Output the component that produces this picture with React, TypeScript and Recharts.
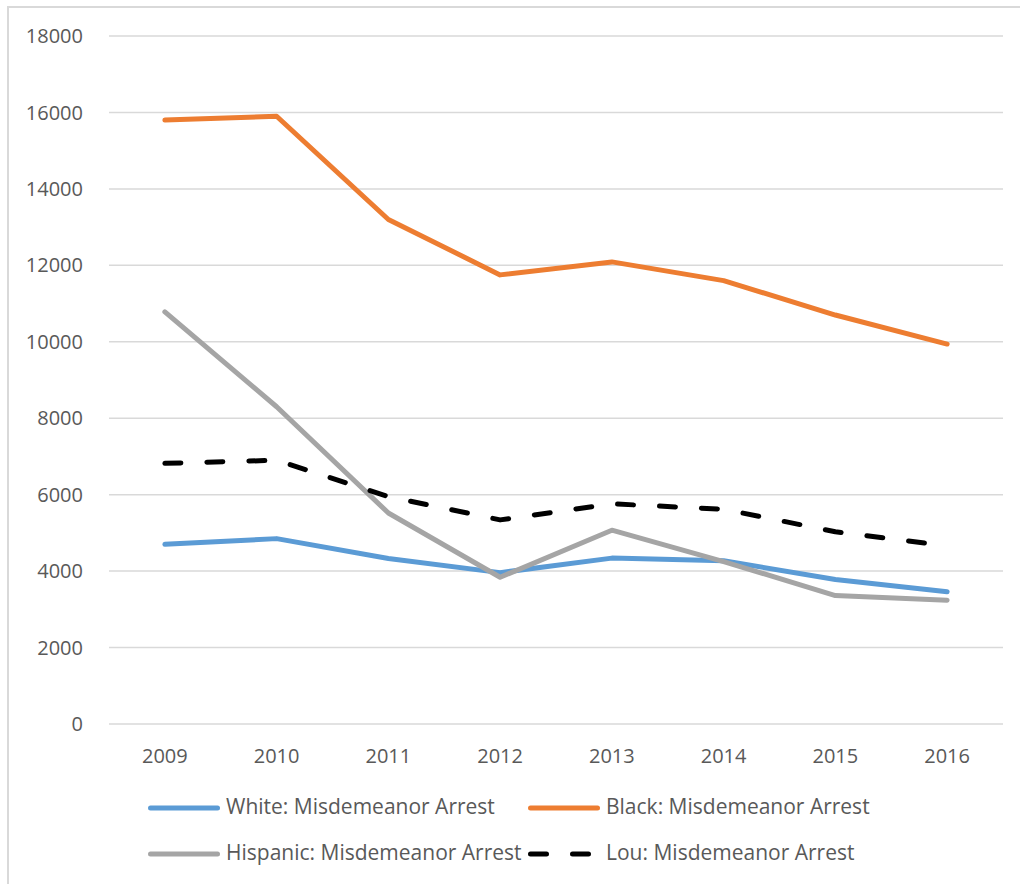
import { LineChart, Line, XAxis, YAxis, CartesianGrid, Legend } from 'recharts';

const years = ['2009', '2010', '2011', '2012', '2013', '2014', '2015', '2016'];
const white = [4700, 4850, 4330, 3960, 4340, 4270, 3780, 3460];
const black = [15800, 15900, 13200, 11750, 12090, 11600, 10700, 9940];
const hispanic = [10780, 8300, 5520, 3840, 5070, 4250, 3360, 3240];
const lou = [6820, 6900, 5950, 5340, 5760, 5620, 5030, 4660];
const yTicks = [0, 2000, 4000, 6000, 8000, 10000, 12000, 14000, 16000, 18000];
const legendOrder = [
  'White: Misdemeanor Arrest',
  'Black: Misdemeanor Arrest',
  'Hispanic: Misdemeanor Arrest',
  'Lou: Misdemeanor Arrest',
];

const data = years.map((year, i) => ({
  year,
  white: white[i],
  black: black[i],
  hispanic: hispanic[i],
  lou: lou[i],
}));

const FONT = '"Open Sans", sans-serif';
const TEXT = '#595959';

// Excel-like two-column legend, in series order
function LegendBox({ payload }: any) {
  const items = [...(payload || [])].sort(
    (a: any, b: any) => legendOrder.indexOf(a.value) - legendOrder.indexOf(b.value)
  );
  return (
    <div
      style={{
        display: 'grid',
        gridTemplateColumns: '380px 380px',
        fontFamily: FONT,
        fontSize: 21,
        color: TEXT,
      }}
    >
      {items.map((it: any) => (
        <div key={it.value} style={{ display: 'flex', alignItems: 'center', height: 46 }}>
          <svg width={72} height={10} style={{ marginRight: 6, marginTop: 4 }}>
            <line
              x1={2.5}
              y1={5}
              x2={69.5}
              y2={5}
              stroke={it.color}
              strokeWidth={5}
              strokeLinecap="round"
              strokeDasharray={it.payload?.strokeDasharray}
            />
          </svg>
          <span style={{ whiteSpace: 'nowrap' }}>{it.value}</span>
        </div>
      ))}
    </div>
  );
}

export default function App() {
  return (
    <div
      style={{
        position: 'absolute',
        left: 0,
        top: 0,
        width: 1020,
        height: 884,
        overflow: 'hidden',
        background: '#fff',
      }}
    >
      <div
        style={{
          position: 'absolute',
          left: 7,
          top: 6,
          width: 1020,
          height: 884,
          borderLeft: '2px solid #d9d9d9',
          borderTop: '2px solid #d9d9d9',
        }}
      />
      <div style={{ position: 'absolute', left: 0, top: 0 }}>
        <LineChart
          width={1020}
          height={884}
          data={data}
          margin={{ top: 36, right: 17, left: 29, bottom: 38 }}
        >
          <CartesianGrid vertical={false} stroke="#d9d9d9" strokeWidth={1.5} />
          <XAxis
            dataKey="year"
            scale="band"
            axisLine={false}
            tickLine={false}
            tickMargin={19}
            tick={{ fill: TEXT, fontSize: 20, fontFamily: FONT }}
          />
          <YAxis
            width={80}
            domain={[0, 18000]}
            ticks={yTicks}
            axisLine={false}
            tickLine={false}
            tickMargin={20}
            tick={{ fill: TEXT, fontSize: 20, fontFamily: FONT }}
          />
          <Legend
            content={<LegendBox />}
            wrapperStyle={{ position: 'absolute', left: 148, top: 783, width: 800 }}
          />
          <Line
            dataKey="white"
            name="White: Misdemeanor Arrest"
            stroke="#5B9BD5"
            strokeWidth={5}
            strokeLinecap="round"
            strokeLinejoin="round"
            dot={false}
            isAnimationActive={false}
          />
          <Line
            dataKey="black"
            name="Black: Misdemeanor Arrest"
            stroke="#ED7D31"
            strokeWidth={5}
            strokeLinecap="round"
            strokeLinejoin="round"
            dot={false}
            isAnimationActive={false}
          />
          <Line
            dataKey="hispanic"
            name="Hispanic: Misdemeanor Arrest"
            stroke="#A5A5A5"
            strokeWidth={5}
            strokeLinecap="round"
            strokeLinejoin="round"
            dot={false}
            isAnimationActive={false}
          />
          <Line
            dataKey="lou"
            name="Lou: Misdemeanor Arrest"
            stroke="#000000"
            strokeWidth={5}
            strokeLinecap="round"
            strokeLinejoin="round"
            strokeDasharray="16 26"
            dot={false}
            isAnimationActive={false}
          />
        </LineChart>
      </div>
    </div>
  );
}
